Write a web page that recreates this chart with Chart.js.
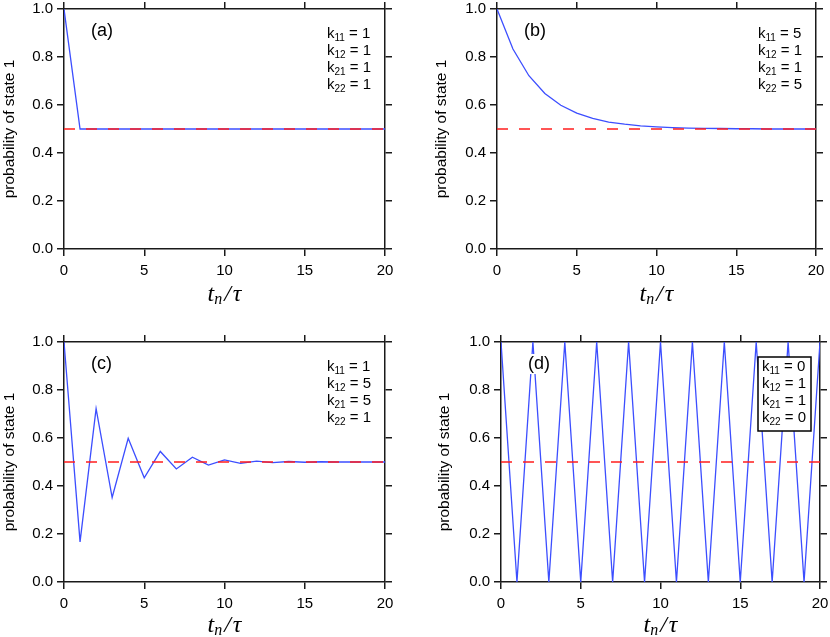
<!DOCTYPE html>
<html lang="en">
<head>
    <meta charset="UTF-8" />
    <title>Probability of state 1</title>
    <script src="https://cdn.jsdelivr.net/npm/chart.js@4.4.0/dist/chart.umd.min.js"></script>
    <style>
        body { margin: 0; background: #fff; }
        .panel { position: absolute; }
    </style>
</head>
<body>
    <div class="panel" style="left:0;top:0;width:415px;height:318px"><canvas id="chartA"></canvas></div>
    <div class="panel" style="left:415px;top:0;width:415px;height:318px"><canvas id="chartB"></canvas></div>
    <div class="panel" style="left:0;top:318px;width:415px;height:319px"><canvas id="chartC"></canvas></div>
    <div class="panel" style="left:415px;top:318px;width:415px;height:319px"><canvas id="chartD"></canvas></div>

    <script>
        // data
        const steps = [0, 1, 2, 3, 4, 5, 6, 7, 8, 9, 10, 11, 12, 13, 14, 15, 16, 17, 18, 19, 20];
        const probA = [1, 0.5, 0.5, 0.5, 0.5, 0.5, 0.5, 0.5, 0.5, 0.5, 0.5, 0.5, 0.5, 0.5, 0.5, 0.5, 0.5, 0.5, 0.5, 0.5, 0.5];
        const probB = [1, 0.833, 0.722, 0.648, 0.599, 0.566, 0.544, 0.529, 0.520, 0.513, 0.509, 0.506, 0.504, 0.503, 0.502, 0.501, 0.501, 0.500, 0.500, 0.500, 0.500];
        const probC = [1, 0.167, 0.722, 0.352, 0.599, 0.434, 0.544, 0.471, 0.520, 0.487, 0.509, 0.494, 0.504, 0.497, 0.502, 0.499, 0.501, 0.500, 0.500, 0.500, 0.500];
        const probD = [1, 0, 1, 0, 1, 0, 1, 0, 1, 0, 1, 0, 1, 0, 1, 0, 1, 0, 1, 0, 1];
        const equilibrium = 0.5;
        const xTicks = [0, 5, 10, 15, 20];
        const yTicks = [0, 0.2, 0.4, 0.6, 0.8, 1.0];
        const kNames = ['11', '12', '21', '22'];
        const kA = [1, 1, 1, 1];
        const kB = [5, 1, 1, 5];
        const kC = [1, 5, 5, 1];
        const kD = [0, 1, 1, 0];
        const panelTags = ['(a)', '(b)', '(c)', '(d)'];
        const yTitle = 'probability of state 1';

        const FRAME = '#1a1a1a';
        const BLUE = 'rgb(60, 78, 255)';
        const RED = 'rgb(255, 30, 30)';
        const SANS = '"Liberation Sans", Arial, sans-serif';

        // draws the panel tag, the k list and the x axis title
        const notesPlugin = {
            id: 'panelNotes',
            afterDatasetsDraw(chart, args, opts) {
                const ctx = chart.ctx;
                const area = chart.chartArea;
                ctx.save();
                ctx.textBaseline = 'middle';

                // tag like (a)
                ctx.font = '18px ' + SANS;
                const tx = area.left + 27, ty = area.top + 22;
                if (opts.tagBackground) {
                    const w = ctx.measureText(opts.tag).width;
                    ctx.fillStyle = '#fff';
                    ctx.fillRect(tx - 1, ty - 10, w + 2, 20);
                }
                ctx.fillStyle = '#000';
                ctx.textAlign = 'left';
                ctx.fillText(opts.tag, tx, ty);

                // k list
                const kx = area.right - 58;
                if (opts.boxed) {
                    ctx.fillStyle = '#fff';
                    ctx.fillRect(area.right - 62, area.top + 15, 53, 74);
                    ctx.strokeStyle = '#000';
                    ctx.lineWidth = 1.5;
                    ctx.strokeRect(area.right - 62, area.top + 15, 53, 74);
                }
                ctx.fillStyle = '#000';
                opts.ks.forEach((v, i) => {
                    const y = area.top + 25 + i * 17;
                    let x = kx;
                    ctx.font = '15px ' + SANS;
                    ctx.fillText('k', x, y);
                    x += ctx.measureText('k').width;
                    ctx.font = '10px ' + SANS;
                    ctx.fillText(kNames[i], x, y + 4);
                    x += ctx.measureText(kNames[i]).width;
                    ctx.font = '15px ' + SANS;
                    ctx.fillText(' = ' + v, x, y);
                });

                // x axis title t_n / tau
                const cy = area.bottom + opts.titleGap;
                const big = 'italic 24px "Liberation Serif", "DejaVu Serif", serif';
                const small = 'italic 16px "Liberation Serif", "DejaVu Serif", serif';
                const parts = [['t', big, 0, 0], ['n', small, 5, 2], ['/', big, 0, 2], ['\u03c4', big, 0, 0]];
                let total = 0;
                parts.forEach(p => { ctx.font = p[1]; total += ctx.measureText(p[0]).width + p[3]; });
                let x = (area.left + area.right) / 2 - total / 2;
                parts.forEach(p => {
                    ctx.font = p[1];
                    ctx.fillText(p[0], x, cy + p[2]);
                    x += ctx.measureText(p[0]).width + p[3];
                });
                ctx.restore();
            }
        };

        function tickList(list) {
            return scale => { scale.ticks = list.map(v => ({ value: v })); };
        }

        function edgeAxis(axis, position, min, max, list, size, extra) {
            const base = {
                type: 'linear',
                axis: axis,
                position: position,
                min: min,
                max: max,
                afterBuildTicks: tickList(list),
                grid: { drawOnChartArea: false, drawTicks: true, tickLength: 7, color: FRAME, lineWidth: 1.5 },
                border: { display: true, color: FRAME, width: 1.5 },
                ticks: { display: false },
                afterFit: scale => {
                    if (axis === 'x') {
                        scale.height = size;
                        scale.paddingLeft = 0;
                        scale.paddingRight = 0;
                    } else {
                        scale.width = size;
                        scale.paddingTop = 0;
                        scale.paddingBottom = 0;
                    }
                }
            };
            return Object.assign(base, extra || {});
        }

        function makePanel(id, series, ks, tag, lay) {
            const data = {
                datasets: [
                    {
                        data: [{ x: steps[0], y: equilibrium }, { x: steps[steps.length - 1], y: equilibrium }],
                        borderColor: RED,
                        borderWidth: 1.5,
                        borderDash: [11, 11],
                        pointRadius: 0,
                        order: 0
                    },
                    {
                        data: steps.map((t, i) => ({ x: t, y: series[i] })),
                        borderColor: BLUE,
                        borderWidth: 1.3,
                        pointRadius: 0,
                        tension: 0,
                        order: 1
                    }
                ]
            };
            const scales = {
                x: edgeAxis('x', 'bottom', 0, 20, xTicks, lay.bottom, {
                    ticks: { display: true, color: '#000', font: { family: SANS, size: 15 }, padding: 6, maxRotation: 0, autoSkip: false }
                }),
                xTop: edgeAxis('x', 'top', 0, 20, xTicks, lay.top),
                y: edgeAxis('y', 'left', 0, 1, yTicks, lay.left, {
                    ticks: { display: true, color: '#000', font: { family: SANS, size: 15 }, padding: 4, callback: v => v.toFixed(1) },
                    title: { display: true, text: yTitle, color: '#000', font: { family: SANS, size: 15.5 }, padding: { top: lay.yTitlePad, bottom: 0 } }
                }),
                yRight: edgeAxis('y', 'right', 0, 1, yTicks, lay.right)
            };
            return new Chart(document.getElementById(id), {
                type: 'line',
                data: data,
                options: {
                    responsive: true,
                    maintainAspectRatio: false,
                    animation: false,
                    layout: { padding: 0 },
                    scales: scales,
                    plugins: {
                        legend: { display: false },
                        tooltip: { enabled: false },
                        panelNotes: { tag: tag, ks: ks, boxed: lay.boxed, tagBackground: lay.boxed, titleGap: lay.titleGap }
                    }
                },
                plugins: [notesPlugin]
            });
        }

        makePanel('chartA', probA, kA, panelTags[0], { left: 64, right: 30, top: 9, bottom: 69, yTitlePad: 0, titleGap: 46, boxed: false });
        makePanel('chartB', probB, kB, panelTags[1], { left: 82, right: 14, top: 9, bottom: 69, yTitlePad: 17, titleGap: 46, boxed: false });
        makePanel('chartC', probC, kC, panelTags[2], { left: 64, right: 30, top: 24, bottom: 55, yTitlePad: 0, titleGap: 44, boxed: false });
        makePanel('chartD', probD, kD, panelTags[3], { left: 86, right: 10, top: 24, bottom: 55, yTitlePad: 20, titleGap: 44, boxed: true });
    </script>
</body>
</html>
